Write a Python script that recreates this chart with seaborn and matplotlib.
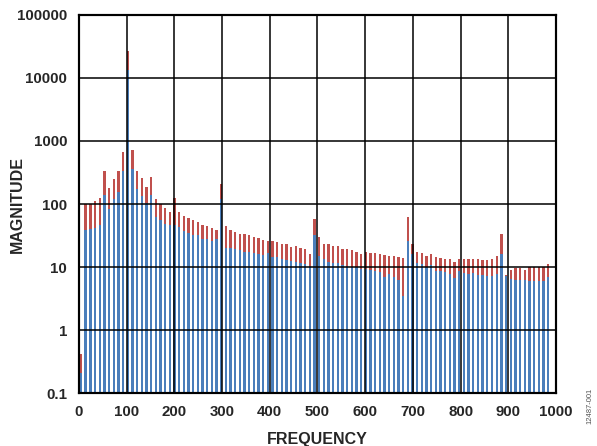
import numpy as np
import matplotlib
matplotlib.use("Agg")
import matplotlib.pyplot as plt
import seaborn as sns

# frequency bins (Hz), one bar pair per bin
freq = np.arange(0, 1001, 10)

# front series (blue)
blue_vals = [
    0.21, 38, 40, 42, 46, 138, 82, 118, 154, 332,
    13600, 362, 174, 133, 105, 138, 63, 55, 49, 46,
    47, 43, 37, 35, 32, 32, 28, 28, 26, 28,
    122, 20, 20, 19, 18.5, 17.6, 17.4, 16.6, 15.8, 15.6,
    16.8, 14.5, 14.2, 13.5, 13.1, 12.4, 12.2, 11.7, 11, 10.4,
    32, 14.8, 13.2, 12.2, 11.4, 11.4, 10.6, 10.2, 10, 10,
    9.4, 9.4, 8.9, 8.6, 8.3, 7.0, 7.8, 7.0, 6.2, 3.5,
    25.4, 16.2, 11.7, 11, 10, 10.6, 8.6, 8.5, 8.2, 7.7,
    6.6, 8.5, 8.1, 7.7, 7.9, 7.5, 7.4, 7.3, 7.2, 7.8,
    16, 7.3, 6.5, 6.3, 6.3, 6.3, 6.1, 6.1, 6.1, 6.1,
    6.9,
]

# back series (red)
red_vals = [
    0.42, 100, 100, 111, 125, 332, 181, 245, 332, 674,
    27300, 714, 340, 261, 188, 264, 118, 101, 87, 76,
    125, 74, 64, 60, 55, 51, 47, 44, 41, 39,
    209, 44, 38, 36, 34, 34, 32, 30, 28.6, 27.3,
    26, 26.3, 24.5, 23.3, 22.8, 21, 21.3, 19.9, 19, 15.8,
    57, 29.7, 23.6, 22.8, 21.4, 21.9, 19, 19, 18.5, 17.6,
    16, 17.6, 16.8, 16.4, 16, 15.6, 15.2, 14.8, 14.5, 14,
    63, 23.6, 17.6, 16.4, 15.2, 16, 14.2, 13.8, 13.6, 13.2,
    12.2, 13.5, 13.2, 13.2, 13.2, 13.5, 12.7, 13, 13.2, 14.8,
    34, 7.5, 9.1, 9.5, 9.5, 8.9, 10, 10, 10, 10,
    11,
]

x_ticks = [0, 100, 200, 300, 400, 500, 600, 700, 800, 900, 1000]
y_ticks = [0.1, 1, 10, 100, 1000, 10000, 100000]
y_labels = ["0.1", "1", "10", "100", "1000", "10000", "100000"]

sns.set_theme(style="white")
plt.rcParams["font.family"] = ["Liberation Sans", "DejaVu Sans"]
plt.rcParams["font.weight"] = "bold"

fig, ax = plt.subplots(figsize=(5.97, 4.46), dpi=100)
fig.subplots_adjust(left=0.1323, right=0.9313, top=0.9664, bottom=0.1188)

ax.set_yscale("log")
sns.barplot(x=freq, y=red_vals, native_scale=True, width=0.5, color="#C0504D",
            saturation=1, errorbar=None, linewidth=0, edgecolor="none", ax=ax)
sns.barplot(x=freq, y=blue_vals, native_scale=True, width=0.5, color="#4A7EBB",
            saturation=1, errorbar=None, linewidth=0, edgecolor="none", ax=ax)

ax.set_ylim(0.1, 100000)
ax.set_xlim(-4.3, 1017)
ax.set_yticks(y_ticks, labels=y_labels)
ax.yaxis.set_minor_locator(matplotlib.ticker.NullLocator())
ax.set_xticks([])
ax.set_xlabel("")
ax.set_axisbelow(False)
ax.grid(axis="y", color="black", linewidth=1.1)
ax.tick_params(axis="y", length=0, pad=8.5, labelsize=10.8)
for lab in ax.get_yticklabels():
    lab.set_fontweight("bold")
ax.set_ylabel("MAGNITUDE", fontsize=11.5, fontweight="bold")
ax.yaxis.set_label_coords(-0.113, 0.5)

# frequency axis with gridlines drawn over the bars
gx = ax.twiny()
gx.set_xlim(0, 1000)
gx.xaxis.tick_bottom()
gx.xaxis.set_label_position("bottom")
gx.set_xticks(x_ticks, labels=[str(t) for t in x_ticks])
gx.grid(axis="x", color="black", linewidth=1.1)
gx.tick_params(axis="x", length=0, pad=8.5, labelsize=10.8)
for lab in gx.get_xticklabels():
    lab.set_fontweight("bold")
gx.set_xlabel("FREQUENCY", fontsize=11.5, fontweight="bold")
gx.xaxis.set_label_coords(0.5, -0.102)

for a in (ax, gx):
    for sp in a.spines.values():
        sp.set_color("black")
        sp.set_linewidth(1.5)

fig.text(0.988, 0.09, "12487-001", rotation=90, fontsize=5.5, color="#555555",
         ha="center", va="center", fontweight="normal")

fig.savefig("out.png", dpi=100)
